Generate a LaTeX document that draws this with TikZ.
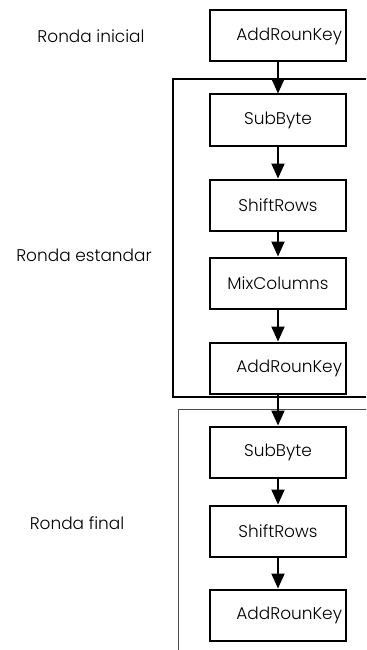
\documentclass[tikz,border=0pt]{standalone}
\usepackage{fontspec}
\setmainfont{Poppins}[UprightFont=* Light]
\usetikzlibrary{arrows.meta}
\begin{document}
\begin{tikzpicture}[x=1bp,y=-1bp,
  stage/.style={draw, line width=2bp, minimum height=51bp, text width=128bp,
    inner xsep=4bp, align=center, font=\fontsize{17}{19}\selectfont},
  rightstage/.style={stage, align=right},
  flow/.style={line width=2bp, -{Triangle[width=13bp,length=15bp]}},
  roundlabel/.style={font=\fontsize{17}{19}\selectfont}]
\useasboundingbox (0,0) rectangle (366,650);

% round frames
\draw[line width=2bp] (366,79) -- (173,79) -- (173,397) -- (366,397);
\draw[line width=1bp, black!70] (366,409) -- (178,409) -- (178,650);

% stages
\node[rightstage] (k0) at (278,36)  {AddRounKey};
\node[stage]      (s1) at (278,120) {SubByte};
\node[stage]      (r1) at (278,205) {ShiftRows};
\node[stage]      (m1) at (278,283) {MixColumns};
\node[rightstage] (k1) at (278,368) {AddRounKey};
\node[stage]      (s2) at (278,452) {SubByte};
\node[stage]      (r2) at (278,531) {ShiftRows};
\node[rightstage] (k2) at (278,615) {AddRounKey};

\draw[flow] (k0) -- (s1);
\draw[flow] (s1) -- (r1);
\draw[flow] (r1) -- (m1);
\draw[flow] (m1) -- (k1);
\draw[flow] (k1) -- (s2);
\draw[flow] (s2) -- (r2);
\draw[flow] (r2) -- (k2);

% round names
\node[roundlabel] (l0) at (91,36)  {Ronda inicial};
\node[roundlabel] (l1) at (84,255) {Ronda estandar};
\node[roundlabel] (l2) at (77,523) {Ronda final};
\end{tikzpicture}
\end{document}
